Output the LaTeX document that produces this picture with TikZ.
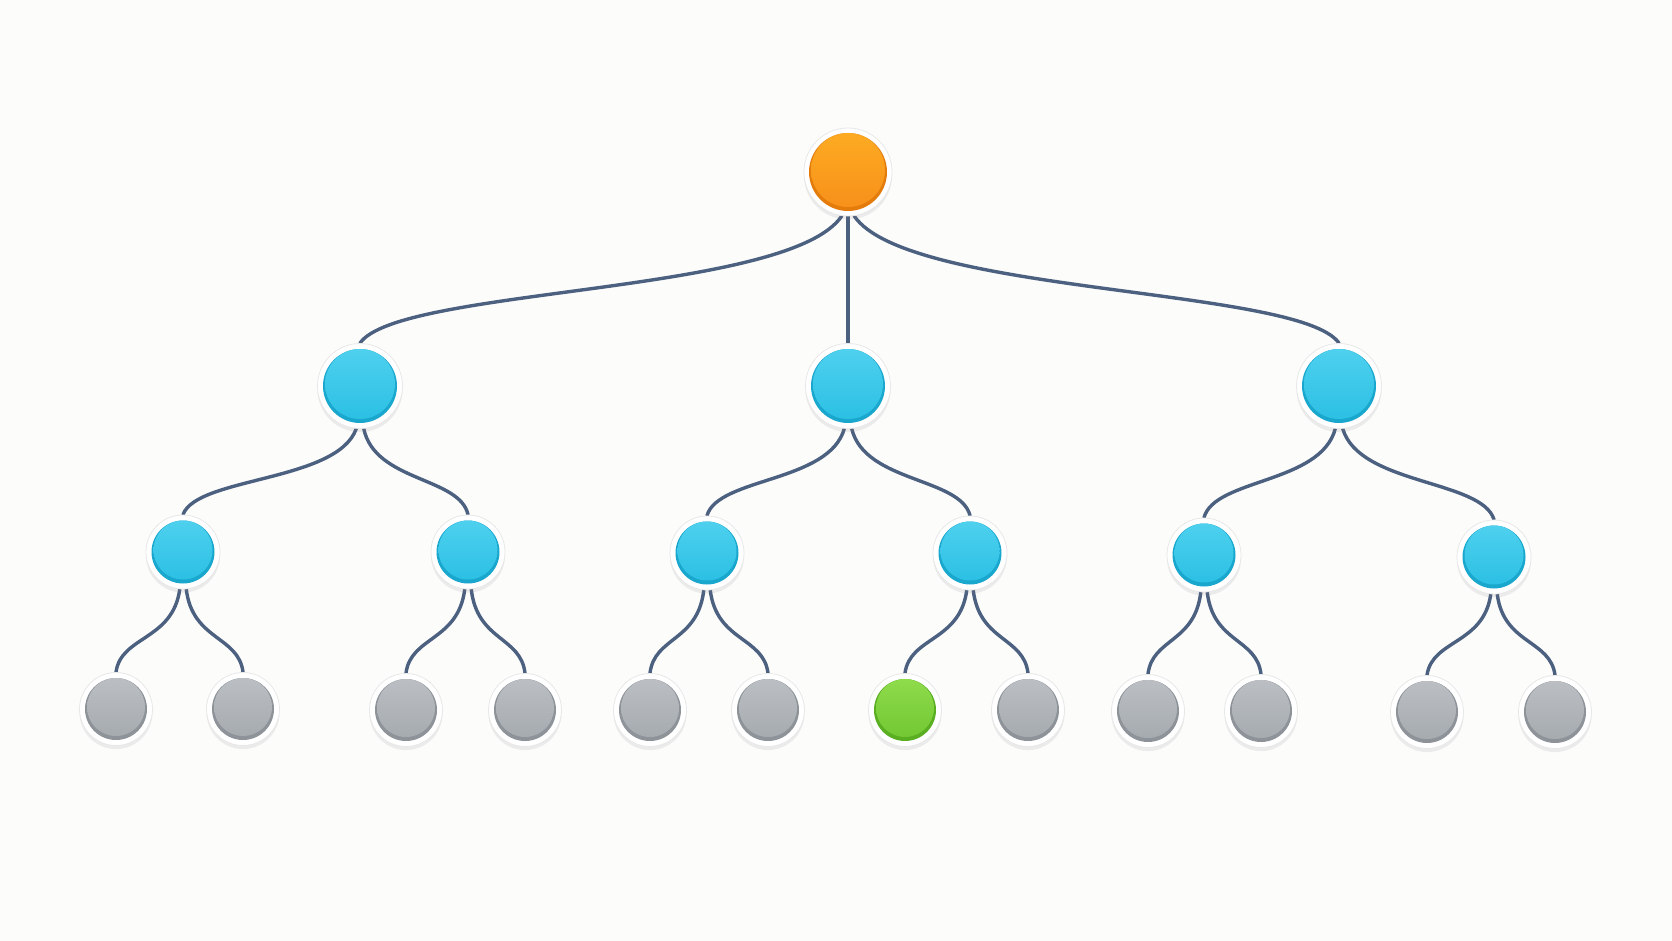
\documentclass[tikz,border=0pt]{standalone}
\usetikzlibrary{calc,shadows,backgrounds}
\definecolor{bgc}{HTML}{FCFCFB}
\definecolor{edgec}{HTML}{4C6080}
\definecolor{orTop}{HTML}{FDAB22}
\definecolor{orBot}{HTML}{F7901A}
\definecolor{orRim}{HTML}{E47C0C}
\definecolor{blTop}{HTML}{4ED0EE}
\definecolor{blBot}{HTML}{2CC0E4}
\definecolor{blRim}{HTML}{19A7CE}
\definecolor{grTop}{HTML}{BBBFC3}
\definecolor{grBot}{HTML}{A6ABB0}
\definecolor{grRim}{HTML}{8D9399}
\definecolor{gnTop}{HTML}{8FDB4C}
\definecolor{gnBot}{HTML}{72C832}
\definecolor{gnRim}{HTML}{5AAE22}
\tikzset{
  x=0.5pt, y=-0.5pt,
  base/.style={circle, fill=white, draw=black!9, line width=0.4pt, inner sep=0pt,
    drop shadow={opacity=0.13, shadow xshift=0pt, shadow yshift=-1.8pt}},
  ball/.style n args={4}{path picture={
      \fill[#2] (path picture bounding box.center) circle (#1);
      \shade[top color=#3, bottom color=#4]
        ([yshift=1pt]path picture bounding box.center) circle ({#1-1pt});}},
  rootnode/.style={base, minimum size=44pt, ball={19.5pt}{orRim}{orTop}{orBot}},
  midnode/.style={base, minimum size=42.5pt, ball={18.5pt}{blRim}{blTop}{blBot}},
  lownode/.style={base, minimum size=37pt, ball={15.75pt}{blRim}{blTop}{blBot}},
  leafnode/.style={base, minimum size=36.5pt, ball={15.5pt}{grRim}{grTop}{grBot}},
  goalnode/.style={base, minimum size=36.5pt, ball={15.5pt}{gnRim}{gnTop}{gnBot}},
  edge/.style={draw=edgec, line width=1.7pt, line cap=round}
}
\newcommand{\tedge}[2]{%
  \draw[edge] let \p1=(#1), \p2=(#2) in
    (\p1) .. controls ({\x1+0.11*(\x2-\x1)},{\y1+0.62*(\y2-\y1)})
          and ({\x2+0.08*(\x1-\x2)},{\y2-0.44*(\y2-\y1)}) .. (\p2);}
\pgfdeclarelayer{background}
\pgfsetlayers{background,main}
\begin{document}
\begin{tikzpicture}
\useasboundingbox (0,0) rectangle (1672,941);
% nodes
\node[rootnode] (r) at (848,172) {};
\node[midnode] (a) at (360,386) {};
\node[midnode] (b) at (848,386) {};
\node[midnode] (c) at (1339,386) {};
\node[lownode] (a1) at (183,552) {};
\node[lownode] (a2) at (468,552) {};
\node[lownode] (b1) at (707,553) {};
\node[lownode] (b2) at (970,553) {};
\node[lownode] (c1) at (1204,555) {};
\node[lownode] (c2) at (1494,557) {};
\node[leafnode] (l1) at (116,709) {};
\node[leafnode] (l2) at (243,709) {};
\node[leafnode] (l3) at (406,710) {};
\node[leafnode] (l4) at (525,710) {};
\node[leafnode] (l5) at (650,710) {};
\node[leafnode] (l6) at (768,710) {};
\node[goalnode] (l7) at (905,710) {};
\node[leafnode] (l8) at (1028,710) {};
\node[leafnode] (l9) at (1148,711) {};
\node[leafnode] (l10) at (1261,711) {};
\node[leafnode] (l11) at (1427,712) {};
\node[leafnode] (l12) at (1555,712) {};
\begin{pgfonlayer}{background}
\fill[bgc] (0,0) rectangle (1672,941);
\tedge{r.-98}{a.north}
\tedge{r.south}{b.north}
\tedge{r.-82}{c.north}
\tedge{a.-95}{a1.north}
\tedge{a.-85}{a2.north}
\tedge{b.-95}{b1.north}
\tedge{b.-85}{b2.north}
\tedge{c.-95}{c1.north}
\tedge{c.-85}{c2.north}
\tedge{a1.-95}{l1.north}
\tedge{a1.-85}{l2.north}
\tedge{a2.-95}{l3.north}
\tedge{a2.-85}{l4.north}
\tedge{b1.-95}{l5.north}
\tedge{b1.-85}{l6.north}
\tedge{b2.-95}{l7.north}
\tedge{b2.-85}{l8.north}
\tedge{c1.-95}{l9.north}
\tedge{c1.-85}{l10.north}
\tedge{c2.-95}{l11.north}
\tedge{c2.-85}{l12.north}
\end{pgfonlayer}
\end{tikzpicture}
\end{document}
